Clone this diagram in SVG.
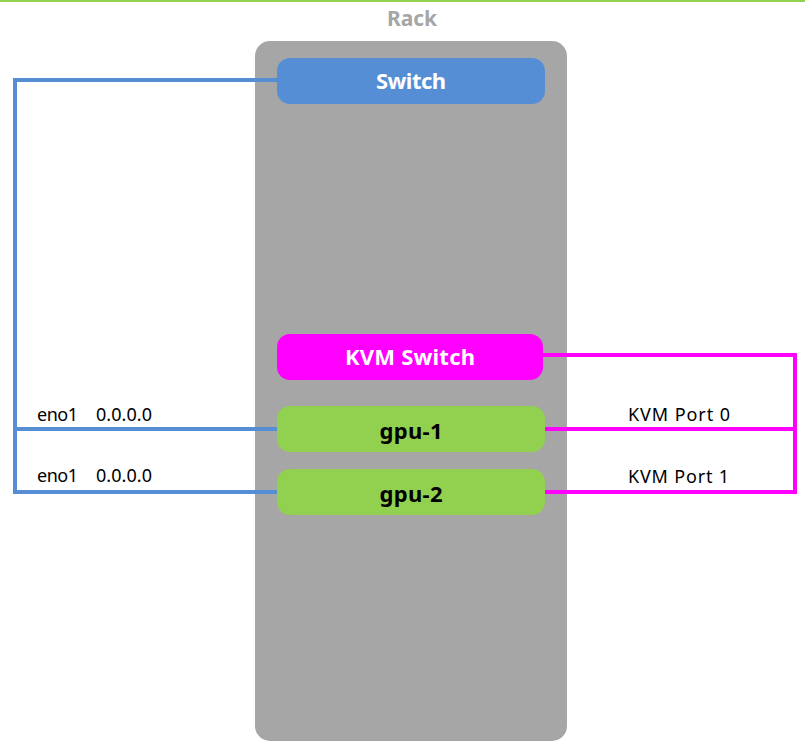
<svg xmlns="http://www.w3.org/2000/svg" width="805" height="744" viewBox="0 0 805 744">
<style>
.node text{font-family:"Noto Sans","Liberation Sans",sans-serif;font-weight:bold;font-size:22px;text-anchor:middle;dominant-baseline:central}
.lbl{font-family:"Noto Sans","Liberation Sans",sans-serif;font-size:18px;fill:#000}
.blue{stroke:#558ED5;stroke-width:4;fill:none}
.mag{stroke:#FF00FF;stroke-width:4;fill:none}
</style>
<rect x="0" y="0" width="805" height="744" fill="#fff"/>
<line x1="0" y1="1" x2="805" y2="1" stroke="#92D050" stroke-width="2"/>
<g id="rack">
<rect x="255" y="41" width="312" height="700" rx="15" fill="#A6A6A6"/>
<text x="412" y="18" font-family="Noto Sans, Liberation Sans, sans-serif" font-weight="bold" font-size="21" fill="#A6A6A6" text-anchor="middle" dominant-baseline="central">Rack</text>
</g>
<g id="connectors">
<polyline class="blue" points="277,80 15,80 15,492 277,492"/>
<line class="blue" x1="15" y1="429" x2="277" y2="429"/>
<polyline class="mag" points="543,355 795,355 795,492 545,492"/>
<line class="mag" x1="545" y1="429" x2="795" y2="429"/>
</g>
<g id="switch" class="node">
<rect x="277" y="58" width="268" height="46" rx="13" fill="#558ED5"/>
<text x="411" y="80" fill="#fff" textLength="70">Switch</text>
</g>
<g id="kvm" class="node">
<rect x="277" y="334" width="266" height="46" rx="13" fill="#FF00FF"/>
<text x="410" y="356" fill="#fff" textLength="130">KVM Switch</text>
</g>
<g id="gpu1" class="node">
<rect x="277" y="406" width="268" height="46" rx="13" fill="#92D050"/>
<text x="411" y="430" fill="#000" textLength="63">gpu-1</text>
</g>
<g id="gpu2" class="node">
<rect x="277" y="469" width="268" height="46" rx="13" fill="#92D050"/>
<text x="411" y="493" fill="#000" textLength="63">gpu-2</text>
</g>
<g id="labels">
<text class="lbl" x="37" y="421" textLength="41">eno1</text>
<text class="lbl" x="96" y="421" textLength="56">0.0.0.0</text>
<text class="lbl" x="37" y="482" textLength="41">eno1</text>
<text class="lbl" x="96" y="482" textLength="56">0.0.0.0</text>
<text class="lbl" x="628" y="421" textLength="102">KVM Port 0</text>
<text class="lbl" x="628" y="483" textLength="101">KVM Port 1</text>
</g>
</svg>
